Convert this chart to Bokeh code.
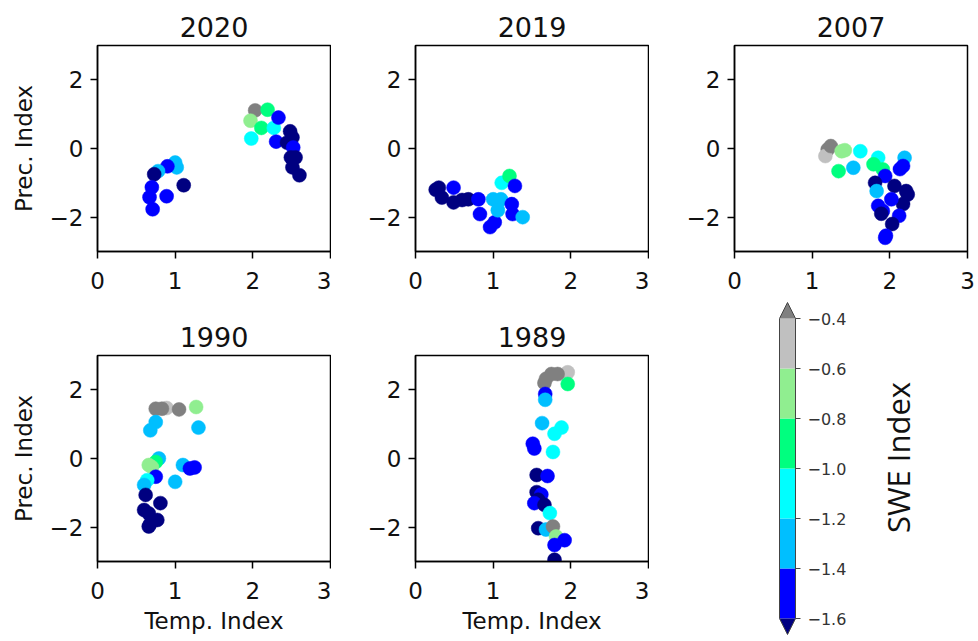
import math
import numpy as np
from bokeh.plotting import figure
from bokeh.layouts import column, row
from bokeh.models import LinearColorMapper, FixedTicker, CustomJSTickFormatter, ColumnDataSource
from bokeh.core.properties import value
from bokeh.embed import file_html
from bokeh.resources import INLINE

# ---------------- data ----------------
years = ["2020", "2019", "2007", "1990", "1989"]

temp_2020 = [1.0, 1.02, 0.9, 0.78, 0.73, 1.11, 0.7, 0.89, 0.67, 0.71,
             2.03, 2.19, 1.97, 2.11, 2.27, 2.33, 1.98, 2.3, 2.48, 2.51, 2.44, 2.52, 2.49, 2.55, 2.51, 2.6]
prec_2020 = [-0.41, -0.55, -0.52, -0.66, -0.75, -1.07, -1.13, -1.39, -1.42, -1.77,
             1.11, 1.13, 0.81, 0.6, 0.6, 0.9, 0.29, 0.2, 0.5, 0.32, 0.17, 0.03, -0.26, -0.26, -0.55, -0.78]
swe_2020 = [-1.3, -1.3, -1.5, -1.3, -1.7, -1.7, -1.5, -1.5, -1.5, -1.5,
            -0.3, -0.9, -0.7, -0.9, -1.1, -1.5, -1.1, -1.5, -1.7, -1.7, -1.7, -1.5, -1.7, -1.7, -1.7, -1.7]

temp_2019 = [0.30, 0.26, 0.34, 0.49, 0.49, 0.6, 0.68, 0.81, 0.83, 0.96, 1.02,
             1.0, 1.06, 1.1, 1.06, 1.11, 1.21, 1.28, 1.24, 1.25, 1.38]
prec_2019 = [-1.14, -1.2, -1.43, -1.14, -1.57, -1.5, -1.48, -1.48, -1.91, -2.29, -2.15,
             -1.48, -1.57, -1.48, -1.8, -1.0, -0.8, -1.09, -1.62, -1.91, -2.0]
swe_2019 = [-1.7, -1.7, -1.7, -1.5, -1.7, -1.7, -1.7, -1.5, -1.5, -1.5, -1.5,
            -1.3, -1.3, -1.3, -1.3, -1.1, -0.9, -1.5, -1.5, -1.5, -1.3]

temp_2007 = [1.2, 1.17, 1.24, 1.38, 1.42, 1.34, 1.62, 1.53, 1.85, 1.79, 1.91, 1.94, 2.19, 2.17, 2.13,
             1.81, 1.83, 2.06, 2.21, 2.23, 2.17, 2.02, 1.85, 1.91, 1.89, 2.12, 2.03, 1.95, 1.94]
prec_2007 = [-0.03, -0.22, 0.07, -0.08, -0.05, -0.66, -0.08, -0.56, -0.27, -0.46, -0.61, -0.8, -0.27, -0.51, -0.6,
             -1.0, -1.24, -1.09, -1.24, -1.34, -1.62, -1.48, -1.67, -1.82, -1.9, -1.96, -2.2, -2.54, -2.6]
swe_2007 = [-0.3, -0.5, -0.3, -0.7, -0.7, -0.9, -1.1, -1.3, -1.1, -0.9, -0.9, -1.5, -1.3, -1.5, -1.5,
            -1.7, -1.3, -1.7, -1.7, -1.7, -1.7, -1.5, -1.5, -1.5, -1.7, -1.5, -1.7, -1.5, -1.5]

temp_1990 = [0.89, 0.75, 0.83, 1.05, 1.27, 1.3, 0.75, 0.68, 0.79, 0.75, 0.66, 0.70, 0.75, 0.64, 0.6,
             1.1, 1.19, 1.25, 1.0, 0.62, 0.81, 0.6, 0.66, 0.77, 0.66, 0.68]
prec_1990 = [1.47, 1.45, 1.45, 1.43, 1.5, 0.9, 1.06, 0.82, 0.0, -0.1, -0.19, -0.25, -0.53, -0.63, -0.77,
             -0.19, -0.29, -0.26, -0.68, -1.06, -1.3, -1.5, -1.6, -1.79, -1.98, -1.9]
swe_1990 = [-0.5, -0.3, -0.3, -0.3, -0.7, -1.3, -1.3, -1.3, -1.3, -0.9, -0.7, -0.7, -1.5, -1.1, -1.3,
            -1.3, -1.5, -1.5, -1.3, -1.7, -1.7, -1.7, -1.7, -1.7, -1.7, -1.7]

temp_1989 = [1.96, 1.96, 1.83, 1.75, 1.68, 1.66, 1.67, 1.67, 1.63, 1.79, 1.88, 1.77, 1.51, 1.53, 1.56,
             1.7, 1.56, 1.62, 1.58, 1.53, 1.66, 1.73, 1.58, 1.68, 1.77, 1.81, 1.92, 1.79, 1.79]
prec_1989 = [2.51, 2.17, 2.46, 2.46, 2.32, 2.2, 1.88, 1.71, 1.03, 0.72, 0.9, 0.19, 0.43, 0.29, -0.48,
             -0.51, -0.98, -1.05, -1.2, -1.3, -1.35, -1.59, -2.03, -2.07, -1.98, -2.27, -2.38, -2.52, -2.95]
swe_1989 = [-0.5, -0.9, -0.3, -0.3, -0.3, -0.3, -1.5, -1.3, -1.3, -1.1, -1.1, -1.1, -1.5, -1.5, -1.7,
            -1.5, -1.7, -1.5, -1.7, -1.5, -1.7, -1.1, -1.7, -1.3, -0.3, -0.7, -1.5, -1.5, -1.7]

x_ticks = [0, 1, 2, 3]
y_ticks = [-2, 0, 2]
swe_bounds = [-1.6, -1.4, -1.2, -1.0, -0.8, -0.6, -0.4]
swe_palette = ["#0000ff", "#00bfff", "#00ffff", "#00ff7f", "#90ee90", "#c0c0c0"]
under_color = "#000080"
over_color = "#808080"

mapper = LinearColorMapper(palette=swe_palette, low=swe_bounds[0], high=swe_bounds[-1],
                           low_color=under_color, high_color=over_color)

FONT = "DejaVu Sans"
TXT = "#111111"
minus_fmt = CustomJSTickFormatter(code="return String(tick).replace('-', '\u2212');")


def panel(title, xs, ys, swe, w, h, bl, br, bt, bb, xlabel=None, ylabel=None):
    p = figure(width=w, height=h, x_range=(0, 3), y_range=(-3, 3), title=title,
               output_backend="svg", toolbar_location=None,
               min_border_left=bl, min_border_right=br, min_border_top=bt, min_border_bottom=bb)
    src = ColumnDataSource(dict(x=xs, y=ys, swe=swe))
    p.scatter("x", "y", source=src, size=14,
              fill_color={"field": "swe", "transform": mapper},
              line_color={"field": "swe", "transform": mapper}, line_width=0.5)
    p.grid.visible = False
    p.outline_line_color = "black"
    p.outline_line_width = 1.5
    p.outline_line_alpha = 1
    p.title.text_font = FONT
    p.title.text_font_size = "27px"
    p.title.text_font_style = "normal"
    p.title.text_color = TXT
    p.title.align = "center"
    p.title.standoff = 17
    p.xaxis.ticker = FixedTicker(ticks=x_ticks)
    p.yaxis.ticker = FixedTicker(ticks=y_ticks)
    p.yaxis.formatter = minus_fmt
    for ax in (p.xaxis, p.yaxis):
        ax.minor_tick_line_color = None
        ax.major_tick_out = 7
        ax.major_tick_in = 0
        ax.major_tick_line_width = 1.5
        ax.major_tick_line_color = "black"
        ax.axis_line_color = "black"
        ax.axis_line_width = 1.5
        ax.major_label_text_font = FONT
        ax.major_label_text_font_size = "23px"
        ax.major_label_text_color = TXT
        ax.axis_label_text_font = FONT
        ax.axis_label_text_font_size = "23px"
        ax.axis_label_text_font_style = "normal"
        ax.axis_label_text_color = TXT
    p.xaxis.major_label_standoff = 13
    p.yaxis.major_label_standoff = 7
    if xlabel:
        p.xaxis.axis_label = xlabel
        p.xaxis.axis_label_standoff = 6
    if ylabel:
        p.yaxis.axis_label = ylabel
        p.yaxis.axis_label_standoff = 10
    return p


H1, H2 = 300, 341
BT1, BB1, BT2, BB2 = 45, 49, 55, 80
f1 = panel(years[0], temp_2020, prec_2020, swe_2020, 331, H1, 97, 1, BT1, BB1, ylabel="Prec. Index")
f2 = panel(years[1], temp_2019, prec_2019, swe_2019, 318, H1, 84, 1, BT1, BB1)
f3 = panel(years[2], temp_2007, prec_2007, swe_2007, 326, H1, 85, 8, BT1, BB1)
f4 = panel(years[3], temp_1990, prec_1990, swe_1990, 331, H2, 97, 1, BT2, BB2,
           xlabel="Temp. Index", ylabel="Prec. Index")
f5 = panel(years[4], temp_1989, prec_1989, swe_1989, 318, H2, 84, 1, BT2, BB2, xlabel="Temp. Index")

# ---------------- colorbar (drawn at overlay level so it may extend beyond the frame) ----------------
CB_W = 326
CB_BL, CB_BR = 130, 8
bar_px = 16.0               # bar width in px -> 1 data unit in x
px_per_unit = 250.0         # px per SWE unit in y
frame_w = CB_W - CB_BL - CB_BR
frame_h = H2 - BT2 - BB2
y_top = swe_bounds[-1] - (355 - 318) / px_per_unit
y_bot = y_top - frame_h / px_per_unit
cb = figure(width=CB_W, height=H2, x_range=(0, frame_w / bar_px), y_range=(y_bot, y_top),
            x_axis_location=None, y_axis_location=None,
            output_backend="svg", toolbar_location=None,
            min_border_left=CB_BL, min_border_right=CB_BR, min_border_top=BT2, min_border_bottom=BB2)
cb.grid.visible = False
cb.outline_line_color = None
ext = 16 / px_per_unit
lo, hi = swe_bounds[0], swe_bounds[-1]
cb.quad(left=0, right=1, bottom=swe_bounds[:-1], top=swe_bounds[1:], fill_color=swe_palette,
        line_color=None, level="overlay")
cb.patch([0, 1, 0.5], [lo, lo, lo - ext], fill_color=under_color, line_color=None, level="overlay")
cb.patch([0, 1, 0.5], [hi, hi, hi + ext], fill_color=over_color, line_color=None, level="overlay")
cb.line([0, 0, 0.5, 1, 1, 0.5, 0], [lo, hi, hi + ext, hi, lo, lo - ext, lo],
        line_color="#444444", line_width=1, level="overlay")
tick_len = 5 / bar_px
cb.segment(x0=[1] * len(swe_bounds), x1=[1 + tick_len] * len(swe_bounds), y0=swe_bounds, y1=swe_bounds,
           line_color="#444444", line_width=1, level="overlay")
tick_labels = [f"{b:.1f}".replace("-", "\u2212") for b in swe_bounds]
cb.text(x=[1 + 12 / bar_px] * len(swe_bounds), y=swe_bounds, text=tick_labels,
        text_font=value(FONT), text_font_size="16px", text_color="#333333",
        text_align="left", text_baseline="middle", level="overlay")
cb.text(x=[1 + 102 / bar_px], y=[hi - (457 - 318) / px_per_unit], text=["SWE Index"],
        angle=math.pi / 2, text_font=value("Open Sans"), text_font_size="31px", text_color="#111111",
        text_align="center", text_baseline="middle", level="overlay")

layout = column(row(f1, f2, f3), row(f4, f5, cb))

with open("out.html", "w") as fh:
    fh.write(file_html(layout, INLINE))
